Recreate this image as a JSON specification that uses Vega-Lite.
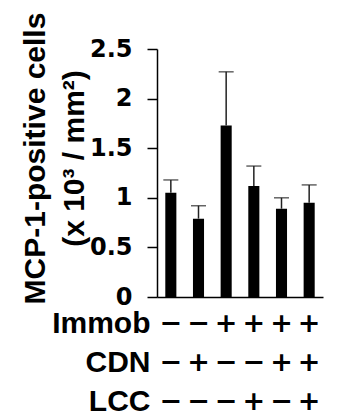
{
  "$schema": "https://vega.github.io/schema/vega-lite/v6.json",
  "width": 166,
  "height": 248,
  "autosize": {"type": "none"},
  "padding": {"left": 157, "top": 49, "right": 14, "bottom": 118},
  "background": "white",
  "config": {"view": {"stroke": null}},
  "data": {
    "values": [
      {"cond": "−|−|−", "mean": 1.05, "upper": 1.18},
      {"cond": "−|+|−", "mean": 0.79, "upper": 0.92},
      {"cond": "+|−|−", "mean": 1.73, "upper": 2.27},
      {"cond": "+|−|+", "mean": 1.12, "upper": 1.32},
      {"cond": "+|+|−", "mean": 0.89, "upper": 1.0},
      {"cond": "+|+|+", "mean": 0.95, "upper": 1.13}
    ]
  },
  "encoding": {
    "x": {
      "field": "cond",
      "type": "nominal",
      "sort": null,
      "scale": {"paddingInner": 0.6, "paddingOuter": 0.3},
      "axis": {
        "title": ["Immob", "CDN", "LCC"],
        "titleFont": "Liberation Sans",
        "titleFontWeight": "bold",
        "titleFontSize": 30,
        "titleColor": "black",
        "titleAlign": "right",
        "titleX": -7,
        "titleY": 35,
        "titleBaseline": "alphabetic",
        "titleLineHeight": 39,
        "ticks": false,
        "tickSize": 0,
        "labelExpr": "split(datum.value, '|')",
        "labelAngle": 0,
        "labelFont": "DejaVu Sans",
        "labelFontWeight": "bold",
        "labelFontSize": 27,
        "labelColor": "black",
        "labelBaseline": "alphabetic",
        "labelPadding": 34,
        "labelLineHeight": 39,
        "labelOverlap": false,
        "domainColor": "black",
        "domainWidth": 1.5
      }
    }
  },
  "layer": [
    {
      "mark": {"type": "bar", "color": "black"},
      "encoding": {
        "y": {
          "field": "mean",
          "type": "quantitative",
          "scale": {"domain": [0, 2.5], "nice": false},
          "axis": {
            "values": [0, 0.5, 1, 1.5, 2, 2.5],
            "format": "~g",
            "grid": false,
            "domainColor": "black",
            "domainWidth": 1.5,
            "tickColor": "black",
            "tickWidth": 1.5,
            "tickSize": 10,
            "labelPadding": 15,
            "labelFont": "DejaVu Sans",
            "labelFontWeight": "bold",
            "labelFontSize": 24,
            "labelColor": "black",
            "title": ["MCP-1-positive cells", "(x 10³ / mm²)"],
            "titleFont": "Liberation Sans",
            "titleFontWeight": "bold",
            "titleFontSize": 30,
            "titleColor": "black",
            "titleLineHeight": 39,
            "titleX": -113,
            "titleY": 109,
            "titleAngle": -90,
            "titleAlign": "center",
            "titleBaseline": "alphabetic"
          }
        }
      }
    },
    {
      "mark": {"type": "rule", "color": "#222222", "strokeWidth": 1.5},
      "encoding": {
        "y": {"field": "mean", "type": "quantitative"},
        "y2": {"field": "upper"}
      }
    },
    {
      "mark": {"type": "tick", "color": "#222222", "size": 15, "thickness": 1.5},
      "encoding": {
        "y": {"field": "upper", "type": "quantitative"}
      }
    }
  ]
}
